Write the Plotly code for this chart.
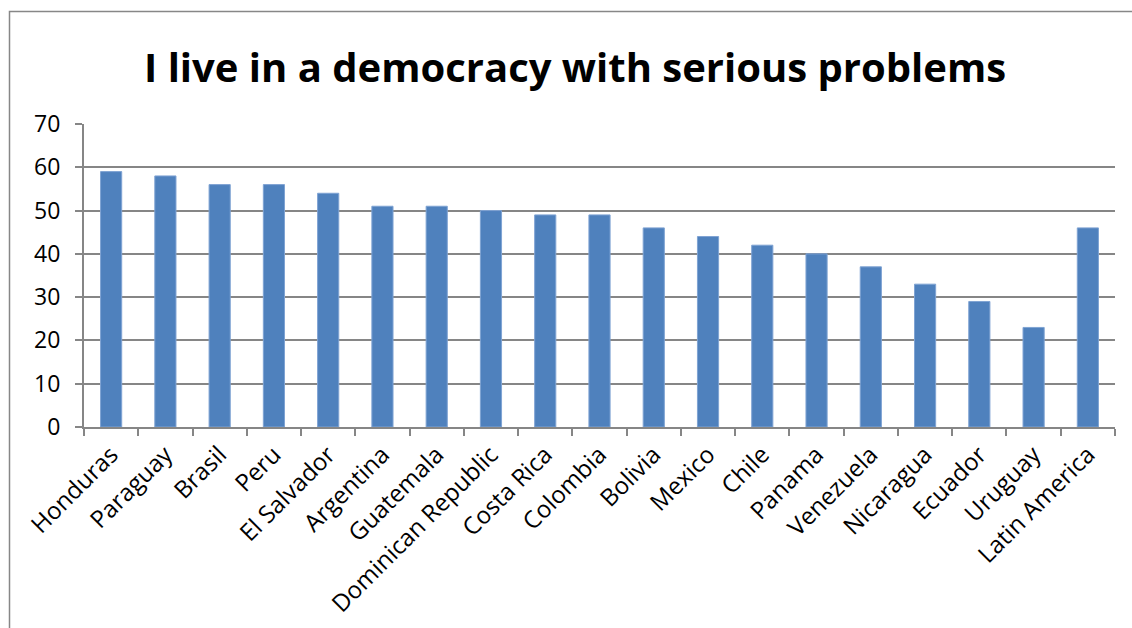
import plotly.graph_objects as go

categories = ["Honduras", "Paraguay", "Brasil", "Peru", "El Salvador", "Argentina",
              "Guatemala", "Dominican Republic", "Costa Rica", "Colombia", "Bolivia",
              "Mexico", "Chile", "Panama", "Venezuela", "Nicaragua", "Ecuador",
              "Uruguay", "Latin America"]
values = [59, 58, 56, 56, 54, 51, 51, 50, 49, 49, 46, 44, 42, 40, 37, 33, 29, 23, 46]
y_ticks = [0, 10, 20, 30, 40, 50, 60, 70]
title = "I live in a democracy with serious problems"

W, H = 1132, 628
L, R, T, B = 84, 17, 124, 201
pw, ph = W - L - R, H - T - B

fig = go.Figure(go.Bar(
    x=categories, y=values,
    marker=dict(color="#4F81BD", line=dict(color="#7FA3D3", width=1)),
    width=0.39,
))

def px_x(p):
    return (p - L) / pw

def px_y(p):
    return 1 - (p - T) / ph

fig.update_layout(
    width=W, height=H,
    margin=dict(l=L, r=R, t=T, b=B, autoexpand=False),
    paper_bgcolor="white", plot_bgcolor="white",
    showlegend=False,
    font=dict(family="Open Sans", color="black"),
    title=dict(text="<b>" + title + "</b>", x=0.508, xanchor="center",
               y=1 - 68 / H, yanchor="middle",
               font=dict(size=40, family="Open Sans", color="black")),
    xaxis=dict(
        type="category", tickangle=-45, tickson="boundaries",
        ticks="outside", ticklen=7, tickcolor="#868686", tickwidth=2,
        showline=True, linecolor="#868686", linewidth=2,
        showgrid=False, tickfont=dict(size=24, family="Open Sans"),
        ticklabelstandoff=2,
    ),
    yaxis=dict(
        range=[0, 70], tickvals=y_ticks,
        ticks="outside", ticklen=7, tickcolor="#868686", tickwidth=2,
        showline=True, linecolor="#868686", linewidth=2,
        showgrid=True, gridcolor="#868686", gridwidth=2,
        zeroline=False, tickfont=dict(size=23, family="Open Sans"),
        ticklabelstandoff=10,
    ),
    shapes=[dict(type="rect", xref="paper", yref="paper",
                 x0=px_x(9.5), x1=px_x(1145), y0=px_y(650), y1=px_y(11.5),
                 line=dict(color="#878787", width=1.5), fillcolor="rgba(0,0,0,0)",
                 layer="below")],
)

fig.write_html("out.html")
